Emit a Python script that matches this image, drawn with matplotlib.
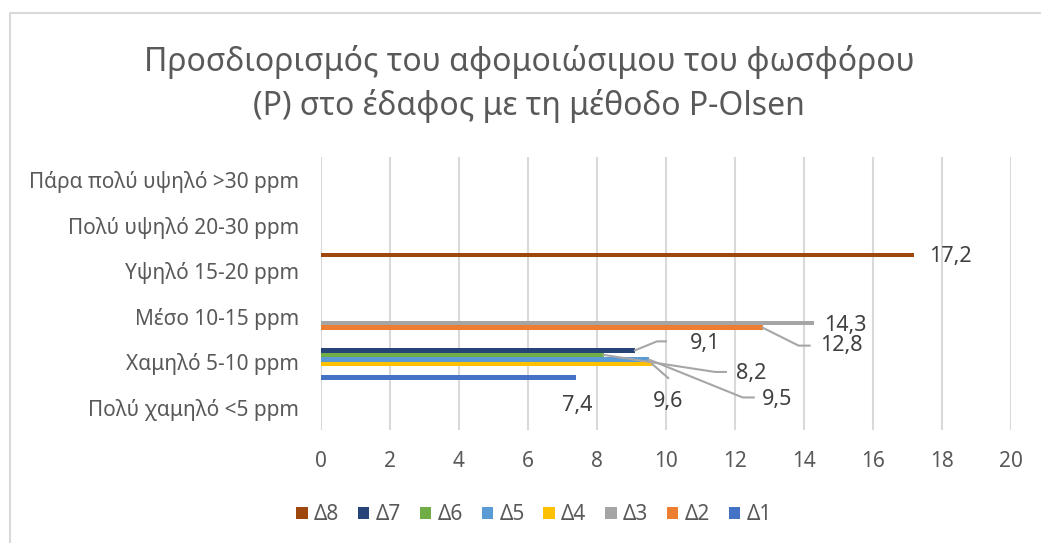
import matplotlib
matplotlib.use('Agg')
import matplotlib.pyplot as plt
from matplotlib.lines import Line2D
from matplotlib.patches import Patch
from matplotlib.transforms import IdentityTransform

plt.rcParams['font.family'] = ['Noto Sans', 'DejaVu Sans']

# Categories (bottom to top)
categories = ['Πολύ χαμηλό <5 ppm', 'Χαμηλό 5-10 ppm', 'Μέσο 10-15 ppm',
              'Υψηλό 15-20 ppm', 'Πολύ υψηλό 20-30 ppm', 'Πάρα πολύ υψηλό >30 ppm']

# Series, their value and the category each one falls in
series = ['Δ1', 'Δ2', 'Δ3', 'Δ4', 'Δ5', 'Δ6', 'Δ7', 'Δ8']
values = [7.4, 12.8, 14.3, 9.6, 9.5, 8.2, 9.1, 17.2]
series_cat = [1, 2, 2, 1, 1, 1, 1, 3]

colors = ['#4472C4', '#ED7D31', '#A5A5A5', '#FFC000',
          '#5B9BD5', '#70AD47', '#264478', '#9E480E']

title = 'Προσδιορισμός του αφομοιώσιμου του φωσφόρου\n(P) στο έδαφος με τη μέθοδο P-Olsen'

# label placement relative to bar end, in pixels (dx right, dy down)
label_offsets = [(1, 28), (79, 18), (31, 2), (16, 37), (128, 40), (147, 19), (70, -7), (36, 2)]
# leader lines (vertices relative to bar end, pixels), None = no leader
leaders = [None,
           [(0, 0), (36, 18), (47, 18)],
           None,
           [(0, 0), (16, 14)],
           [(0, 0), (94, 38), (105, 38)],
           [(0, 0), (111, 17), (122, 17)],
           [(0, 0), (22, -9), (31, -9)],
           None]

text_col = '#595959'
grid_col = '#d9d9d9'

fig = plt.figure(figsize=(10.41, 5.43), dpi=100)
ax = fig.add_axes([321 / 1041, 113 / 543, 690 / 1041, 273 / 543])

n = len(series)
t = 0.1  # bar thickness in category units
for k in range(n):
    yk = series_cat[k] + (k - (n - 1) / 2) * t
    ax.barh(yk, values[k], height=t, color=colors[k], zorder=3)

ax.set_xlim(0, 20)
ax.set_ylim(-0.5, len(categories) - 0.5)
ax.set_xticks(range(0, 21, 2))
ax.set_yticks(range(len(categories)))
ax.set_yticklabels(categories)
ax.tick_params(axis='both', length=0, labelsize=15, labelcolor=text_col)
ax.tick_params(axis='x', pad=15)
ax.tick_params(axis='y', pad=16)
for s in ax.spines.values():
    s.set_visible(False)
ax.grid(axis='x', color=grid_col, linewidth=1.5, zorder=0)
ax.set_axisbelow(True)

# data labels with leader lines, placed in pixel space from the bar ends
for k in range(n):
    yk = series_cat[k] + (k - (n - 1) / 2) * t
    px, py = ax.transData.transform((values[k], yk))
    dx, dy = label_offsets[k]
    fig.text(px + dx, py - dy, f'{values[k]:.1f}'.replace('.', ','),
             transform=IdentityTransform(), ha='center', va='center',
             fontsize=15.5, color='#404040')
    if leaders[k] is not None:
        xs = [px + a for a, b in leaders[k]]
        ys = [py - b for a, b in leaders[k]]
        fig.add_artist(Line2D(xs, ys, transform=IdentityTransform(),
                              color='#a6a6a6', linewidth=1.5))

fig.text(529 / 1041, 1 - 84 / 543, title, ha='center', va='center',
         fontsize=23, color=text_col, linespacing=1.35)

handles = [Patch(facecolor=colors[k], label=series[k]) for k in range(n)][::-1]
fig.legend(handles=handles, loc='center', bbox_to_anchor=(534 / 1041, 1 - 515 / 543),
           ncol=n, frameon=False, fontsize=15, labelcolor=text_col,
           handlelength=0.55, handleheight=0.55, handletextpad=0.3, columnspacing=0.9)

# chart area border (left and top edges visible)
fig.add_artist(Line2D([10 / 1041, 10 / 1041, 1.0], [0.0, 1 - 13 / 543, 1 - 13 / 543],
                      transform=fig.transFigure, color=grid_col, linewidth=1.5))

fig.savefig('out.png', dpi=100)
